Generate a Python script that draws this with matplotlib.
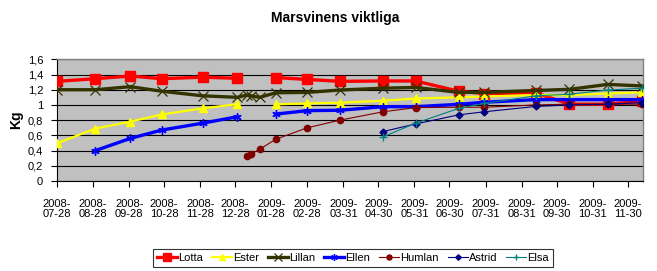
import numpy as np
import pandas as pd
import matplotlib
matplotlib.use("Agg")
import matplotlib.pyplot as plt
import matplotlib.dates as mdates

plt.rcParams['font.family'] = ['Liberation Sans', 'DejaVu Sans']

nan = np.nan
dates = ['2008-07-28', '2008-08-30', '2008-09-29', '2008-10-26', '2008-11-30',
         '2008-12-30', '2009-01-07', '2009-01-11', '2009-01-18', '2009-02-01',
         '2009-02-28', '2009-03-28', '2009-05-04', '2009-06-01', '2009-07-08',
         '2009-07-30', '2009-09-12', '2009-10-11', '2009-11-13', '2009-12-12']

lotta = [1.31, 1.345, 1.38, 1.345, 1.365, 1.35, nan, nan, nan, 1.36,
         1.335, 1.31, 1.315, 1.315, 1.18, 1.15, 1.16, 1.01, 1.01, 1.05]
ester = [0.495, 0.69, 0.78, 0.875, 0.955, 1.01, nan, nan, nan, 1.008,
         1.02, 1.03, 1.055, 1.085, 1.10, 1.11, 1.13, 1.13, 1.15, 1.165]
lillan = [1.20, 1.20, 1.24, 1.18, 1.12, 1.10, 1.13, 1.12, 1.10, 1.16,
          1.165, 1.196, 1.22, 1.23, 1.165, 1.165, 1.19, 1.205, 1.27, 1.25]
ellen = [nan, 0.40, 0.56, 0.67, 0.76, 0.845, nan, nan, nan, 0.88,
         0.925, 0.93, 0.977, 0.977, 1.008, 1.035, 1.07, 1.07, 1.07, 1.07]
humlan = [nan, nan, nan, nan, nan, nan, 0.333, 0.355, 0.417, 0.55,
          0.70, 0.80, 0.91, 0.965, 0.97, 0.97, 1.0, 1.01, 1.01, 1.01]
astrid = [nan] * 12 + [0.65, 0.75, 0.87, 0.91, 0.98, 1.0, 1.01, 1.03]
elsa = [nan] * 12 + [0.58, 0.76, 0.955, 1.02, 1.12, 1.14, 1.196, 1.22]

tick_dates = ['2008-07-28', '2008-08-28', '2008-09-28', '2008-10-28', '2008-11-28',
              '2008-12-28', '2009-01-28', '2009-02-28', '2009-03-31', '2009-04-30',
              '2009-05-31', '2009-06-30', '2009-07-31', '2009-08-31', '2009-09-30',
              '2009-10-31', '2009-11-30']
y_ticks = [0, 0.2, 0.4, 0.6, 0.8, 1.0, 1.2, 1.4, 1.6]
y_labels = ['0', '0,2', '0,4', '0,6', '0,8', '1', '1,2', '1,4', '1,6']

x = mdates.date2num(pd.to_datetime(dates).to_pydatetime())
xt = mdates.date2num(pd.to_datetime(tick_dates).to_pydatetime())
xt_labels = [d[:5] + '\n' + d[5:] for d in tick_dates]

fig = plt.figure(figsize=(6.57, 2.71), dpi=100)
ax = fig.add_axes([57 / 657, 1 - 181 / 271, (642.7 - 57) / 657, (181 - 59.3) / 271])
ax.set_facecolor('#C0C0C0')

series = [
    ('Lotta', lotta, dict(color='#FF0000', lw=2.4, marker='s', ms=7.5, mec='#FF0000')),
    ('Ester', ester, dict(color='#FFFF00', lw=1.6, marker='^', ms=5.5, mec='#FFFF00')),
    ('Lillan', lillan, dict(color='#333300', lw=2.4, marker='x', ms=6.5, mew=0.9)),
    ('Ellen', ellen, dict(color='#0000FF', lw=2.4, marker=(6, 2, 0), ms=6, mew=1.0)),
    ('Humlan', humlan, dict(color='#800000', lw=0.8, marker='o', ms=4.5)),
    ('Astrid', astrid, dict(color='#000080', lw=0.8, marker='D', ms=3.5)),
    ('Elsa', elsa, dict(color='#008080', lw=0.8, marker='+', ms=6, mew=1.0)),
]
for name, vals, st in series:
    ax.plot(x, vals, label=name, **st, zorder=3)

ax.set_xlim(xt[0], mdates.date2num(pd.Timestamp('2009-12-13').to_pydatetime()))
ax.set_ylim(0, 1.6)
ax.set_yticks(y_ticks)
ax.set_yticklabels(y_labels)
ax.set_xticks(xt)
ax.set_xticklabels(xt_labels, linespacing=1.05)
ax.grid(axis='y', color='black', lw=0.8, zorder=1)
ax.set_axisbelow(True)
ax.tick_params(axis='x', direction='out', length=4, width=0.8, pad=9, labelsize=8)
ax.tick_params(axis='y', direction='out', length=4, width=0.8, pad=6, labelsize=8)
for s in ['top', 'right']:
    ax.spines[s].set_color('#808080')
    ax.spines[s].set_linewidth(1)
for s in ['left', 'bottom']:
    ax.spines[s].set_color('black')
    ax.spines[s].set_linewidth(0.8)

fig.text(335 / 657, 1 - 18 / 271, 'Marsvinens viktliga', ha='center', va='center',
         fontsize=10, fontweight='bold')
fig.text(16 / 657, 1 - 120 / 271, 'Kg', ha='center', va='center', rotation=90,
         fontsize=10, fontweight='bold')

leg = fig.legend(loc='center', bbox_to_anchor=(353 / 657, 1 - 257.8 / 271), ncol=7,
                 fontsize=8, frameon=True, fancybox=False, shadow=False,
                 handlelength=1.8, handletextpad=0.1, columnspacing=0.8,
                 borderpad=0.35, borderaxespad=0)
leg.get_frame().set_edgecolor('black')
leg.get_frame().set_linewidth(0.8)
for h in leg.legend_handles:
    h.set_markersize(h.get_markersize() * 0.8)

fig.savefig('out.png', dpi=100, facecolor='white')
